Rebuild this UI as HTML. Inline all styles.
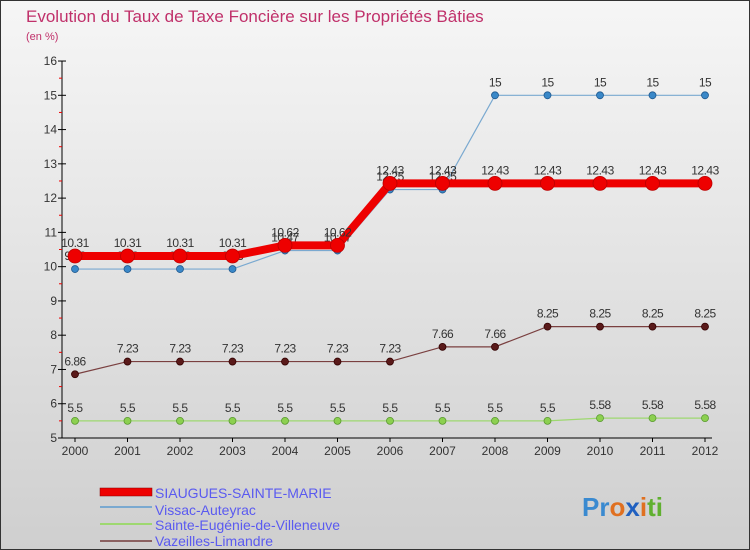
<!DOCTYPE html>
<html><head><meta charset="utf-8"><style>
body{margin:0;width:750px;height:550px;overflow:hidden;font-family:"Liberation Sans",sans-serif}
svg{display:block}
</style></head><body>
<svg id="c" width="750" height="550">
<defs><linearGradient id="bg" x1="0" y1="0" x2="0" y2="1"><stop offset="0" stop-color="#f6f6f6"/><stop offset="1" stop-color="#cfcfcf"/></linearGradient></defs>
<rect x="0.5" y="0.5" width="749" height="549" fill="url(#bg)" stroke="#333"/>
<text x="26" y="22" font-size="17" fill="#c0306a">Evolution du Taux de Taxe Foncière sur les Propriétés Bâties</text>
<text x="26" y="40" font-size="11" fill="#c0306a">(en %)</text>
<g id="axes"></g><g id="series"></g>
<g id="legend">
<rect x="100" y="488" width="52" height="8" fill="#e00" stroke="#800" stroke-width="0.5"/>
<text x="155" y="498" font-size="14" fill="#5a5af0">SIAUGUES-SAINTE-MARIE</text>
<line x1="100" y1="507" x2="152" y2="507" stroke="#7aa9d0" stroke-width="2"/>
<text x="155" y="515" font-size="14" fill="#5a5af0">Vissac-Auteyrac</text>
<line x1="100" y1="524" x2="152" y2="524" stroke="#9ed870" stroke-width="2"/>
<text x="155" y="530" font-size="14" fill="#5a5af0">Sainte-Eugénie-de-Villeneuve</text>
<line x1="100" y1="541" x2="152" y2="541" stroke="#8a6060" stroke-width="2"/>
<text x="155" y="546" font-size="14" fill="#5a5af0">Vazeilles-Limandre</text>
</g>
<text x="582" y="516" font-size="26" font-weight="bold"><tspan fill="#3a8ad0">Pr</tspan><tspan fill="#e07020">o</tspan><tspan fill="#2060c0">x</tspan><tspan fill="#e07020">i</tspan><tspan fill="#60b030">ti</tspan></text>
</svg>
<script>
const years=[2000,2001,2002,2003,2004,2005,2006,2007,2008,2009,2010,2011,2012];
const yTicks=[5,6,7,8,9,10,11,12,13,14,15,16];
const siaugues=[10.31,10.31,10.31,10.31,10.62,10.62,12.43,12.43,12.43,12.43,12.43,12.43,12.43];
const vissac=[9.93,9.93,9.93,9.93,10.47,10.47,12.25,12.25,15,15,15,15,15];
const eugenie=[5.5,5.5,5.5,5.5,5.5,5.5,5.5,5.5,5.5,5.5,5.58,5.58,5.58];
const vazeilles=[6.86,7.23,7.23,7.23,7.23,7.23,7.23,7.66,7.66,8.25,8.25,8.25,8.25];
const NS="http://www.w3.org/2000/svg";
const X0=75,XS=52.5,Y0=438,YS=34.27;
function xs(i){return X0+i*XS}
function ys(v){return Y0-(v-5)*YS}
function mk(t,a,p){const e=document.createElementNS(NS,t);for(const k in a)e.setAttribute(k,a[k]);p.appendChild(e);return e}
const ax=document.getElementById('axes');
const yl=mk('line',{x1:62,y1:ys(16),x2:62,y2:Y0,stroke:'#000'},ax);


const xl=mk('line',{x1:62,y1:Y0,x2:712,y2:Y0,stroke:'#000'},ax);


yTicks.forEach(v=>{
 mk('line',{x1:58,y1:ys(v),x2:66,y2:ys(v),stroke:'#000'},ax);
 if(v<16)mk('line',{x1:59,y1:ys(v+0.5),x2:62,y2:ys(v+0.5),stroke:'#e00'},ax);
 const t=mk('text',{x:57,y:ys(v)+4,'font-size':12,'text-anchor':'end',fill:'#333'},ax);t.textContent=v;
 
 
});
years.forEach((y,i)=>{
 mk('line',{x1:xs(i),y1:Y0,x2:xs(i),y2:Y0+4,stroke:'#000'},ax);
 const t=mk('text',{x:xs(i),y:Y0+17,'font-size':12,'text-anchor':'middle',fill:'#333'},ax);t.textContent=y;
 
 
});
const sg=document.getElementById('series');
function draw(vals,name,color,w,r,dot,stroke){
 const g=mk('g',{},sg);
 
 
 mk('polyline',{points:vals.map((v,i)=>xs(i)+','+ys(v)).join(' '),fill:'none',stroke:color,'stroke-width':w},g);
 vals.forEach((v,i)=>{
  const c=mk('circle',{cx:xs(i),cy:ys(v),r:r,fill:dot,stroke:stroke,'stroke-width':0.8},g);
  
  
  const t=mk('text',{x:xs(i),y:ys(v)-9,'font-size':12,'text-anchor':'middle',fill:'#333','letter-spacing':'-0.5'},g);
  t.textContent=v;
 });
}
draw(eugenie,'sainte-eugenie','#9ed870',1.2,3.5,'#8cd050','#5a9a30');
draw(vazeilles,'vazeilles','#7a4040',1.2,3.5,'#5a1a1a','#300');
draw(vissac,'vissac','#7aa9d0',1.2,3.5,'#3a88c8','#205a90');
draw(siaugues,'siaugues','#e00',8,7,'#e00','#b00');
</script>
</body></html>
